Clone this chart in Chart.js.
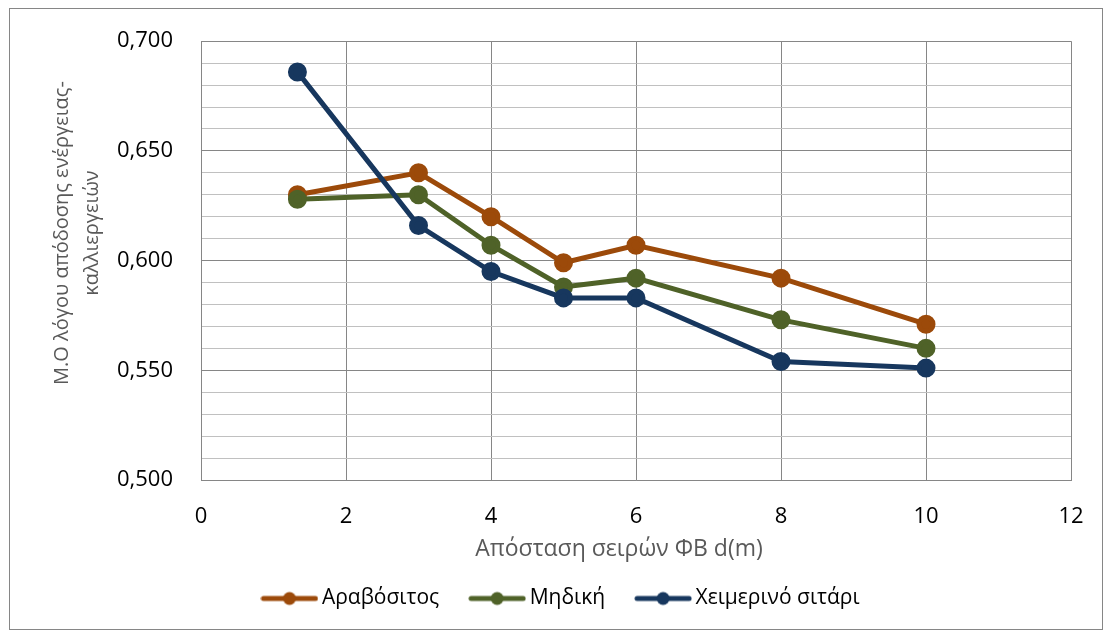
<!DOCTYPE html>
<html>
<head>
<meta charset="utf-8">
<script src="https://cdn.jsdelivr.net/npm/chart.js@4.4.0/dist/chart.umd.min.js"></script>
<style>
  html, body { margin: 0; padding: 0; background: #fff; }
  #wrap { width: 1111px; height: 632px; }
</style>
</head>
<body>
<div id="wrap"><canvas id="LineChart" width="1111" height="632"></canvas></div>
<script>
const distances = [1.33, 3, 4, 5, 6, 8, 10];
const seriesNames = ['Αραβόσιτος', 'Μηδική', 'Χειμερινό σιτάρι'];
const corn = [0.630, 0.640, 0.620, 0.599, 0.607, 0.592, 0.571];
const alfalfa = [0.628, 0.630, 0.607, 0.588, 0.592, 0.573, 0.560];
const wheat = [0.686, 0.616, 0.595, 0.583, 0.583, 0.554, 0.551];
const colors = ['#9C4A0A', '#4F6228', '#17375E'];
const xTicks = [0, 2, 4, 6, 8, 10, 12];
const yMin = 0.5, yMax = 0.7;
const xTitle = 'Απόσταση σειρών ΦΒ d(m)';
const yTitle = ['Μ.Ο λόγου απόδοσης ενέργειας-', 'καλλιεργειών'];

const FONT = '"Open Sans", "Noto Sans", sans-serif';

// legend marker: short line with a dot in the middle
function legendMarker(color) {
    const c = document.createElement('canvas');
    c.width = 58; c.height = 16;
    const g = c.getContext('2d');
    g.strokeStyle = color;
    g.lineWidth = 5;
    g.lineCap = 'round';
    g.beginPath();
    g.moveTo(3, 8); g.lineTo(55, 8);
    g.stroke();
    g.fillStyle = color;
    g.beginPath();
    g.arc(29, 8, 6.5, 0, Math.PI * 2);
    g.fill();
    return c;
}

const allSeries = [corn, alfalfa, wheat];

const outerBorder = {
    id: 'outerBorder',
    beforeDraw(chart) {
        const ctx = chart.ctx;
        ctx.save();
        ctx.strokeStyle = '#868686';
        ctx.lineWidth = 1;
        ctx.strokeRect(9.5, 8.5, 1093, 621);
        ctx.restore();
    }
};

// nudge the legend to where Excel puts it
const legendNudge = {
    id: 'legendNudge',
    afterLayout(chart) {
        const lg = chart.legend;
        lg.left += 18; lg.right += 18;
        lg.top -= 13; lg.bottom -= 13;
    }
};

// axis titles, placed like the Excel original (a bit off-centre)
const axisTitles = {
    id: 'axisTitles',
    afterDraw(chart) {
        const ctx = chart.ctx;
        ctx.save();
        ctx.fillStyle = '#595959';
        ctx.textAlign = 'center';
        ctx.textBaseline = 'middle';
        ctx.font = '23px ' + FONT;
        ctx.fillText(xTitle, 619, 549);
        ctx.translate(62, 233);
        ctx.rotate(-Math.PI / 2);
        ctx.font = '20px ' + FONT;
        yTitle.forEach((line, i) => ctx.fillText(line, 0, i * 30));
        ctx.restore();
    }
};

document.addEventListener('DOMContentLoaded', () => {
    const ctx = document.getElementById('LineChart').getContext('2d');

    new Chart(ctx, {
        type: 'line',
        data: {
            datasets: allSeries.map((vals, i) => ({
                label: seriesNames[i],
                data: vals.map((v, j) => ({ x: distances[j], y: v })),
                borderColor: colors[i],
                backgroundColor: colors[i],
                pointBackgroundColor: colors[i],
                pointBorderColor: colors[i],
                borderWidth: 5,
                pointRadius: 7,
                pointHoverRadius: 7,
                tension: 0,
                order: 3 - i,
                pointStyle: 'circle'
            }))
        },
        options: {
            responsive: false,
            animation: false,
            layout: { padding: { left: 20, right: 40, top: 40, bottom: 0 } },
            plugins: {
                legend: {
                    position: 'bottom',
                    labels: {
                        usePointStyle: true,
                        pointStyleWidth: 44,
                        boxHeight: 16,
                        padding: 36,
                        color: '#000',
                        font: { family: FONT, size: 21 },
                        generateLabels(chart) {
                            return chart.data.datasets.map((ds, i) => ({
                                text: ds.label,
                                pointStyle: legendMarker(colors[i]),
                                fillStyle: colors[i],
                                strokeStyle: colors[i],
                                lineWidth: 0,
                                hidden: false,
                                datasetIndex: i
                            }));
                        }
                    }
                },
                tooltip: { enabled: false }
            },
            scales: {
                x: {
                    type: 'linear',
                    min: 0,
                    max: 12,
                    afterBuildTicks(scale) {
                        scale.ticks = xTicks.map(v => ({ value: v }));
                    },
                    afterFit(scale) { scale.height = 85; },
                    grid: { color: '#868686', lineWidth: 1, drawTicks: false },
                    border: { color: '#868686' },
                    ticks: {
                        autoSkip: false,
                        padding: 24,
                        color: '#000',
                        font: { family: FONT, size: 22 }
                    }
                },
                y: {
                    min: yMin,
                    max: yMax,
                    afterBuildTicks(scale) {
                        const t = [];
                        for (let k = 500; k <= 700; k += 10) t.push({ value: k / 1000 });
                        scale.ticks = t;
                    },
                    afterFit(scale) { scale.width = 181; },
                    grid: {
                        drawTicks: false,
                        lineWidth: 1,
                        color: c => (Math.round(c.tick.value * 1000) % 50 === 0 ? '#868686' : '#C0C0C0')
                    },
                    border: { color: '#868686' },
                    ticks: {
                        autoSkip: false,
                        padding: 28,
                        color: '#000',
                        font: { family: FONT, size: 22 },
                        callback: v => {
                            const m = Math.round(v * 1000);
                            return m % 50 === 0 ? (m / 1000).toFixed(3).replace('.', ',') : '';
                        }
                    }
                }
            }
        },
        plugins: [outerBorder, legendNudge, axisTitles]
    });
});
</script>
</body>
</html>
